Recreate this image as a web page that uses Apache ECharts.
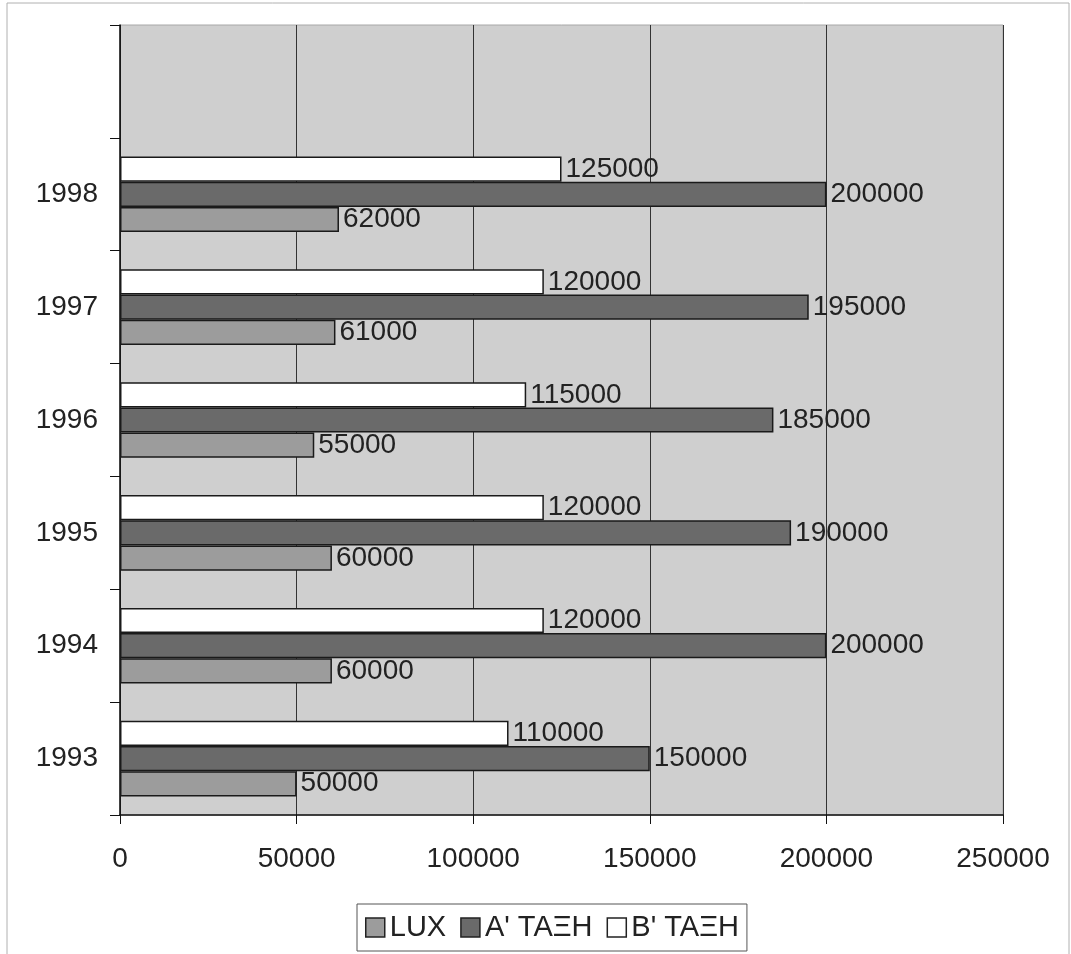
<!DOCTYPE html>
<html>
<head>
<meta charset="utf-8">
<script src="https://cdn.jsdelivr.net/npm/echarts@6/dist/echarts.min.js"></script>
<style>
html,body{margin:0;padding:0;background:#fff;}
#chart{width:1071px;height:954px;}
</style>
</head>
<body>
<div id="chart"></div>
<script>
const categories = ['1993', '1994', '1995', '1996', '1997', '1998', ''];
const seriesNames = ['LUX', 'Α\' ΤΑΞΗ', 'Β\' ΤΑΞΗ'];
const luxValues = [50000, 60000, 60000, 55000, 61000, 62000, null];
const aClassValues = [150000, 200000, 190000, 185000, 195000, 200000, null];
const bClassValues = [110000, 120000, 120000, 115000, 120000, 125000, null];
const xTicks = [0, 50000, 100000, 150000, 200000, 250000];

const fontFamily = 'Liberation Sans, Arial, sans-serif';
const colors = ['#9c9c9c', '#6a6a6a', '#ffffff'];
const valuesList = [luxValues, aClassValues, bClassValues];

// ECharts stacks horizontal bar series top-to-bottom in series order,
// so draw them in reverse to keep LUX at the bottom of each group.
const drawOrder = [2, 1, 0];

const chart = echarts.init(document.getElementById('chart'));
const option = {
  animation: false,
  backgroundColor: '#ffffff',
  textStyle: { fontFamily: fontFamily },
  graphic: [{
    type: 'rect',
    shape: { x: 7, y: 3, width: 1062, height: 960 },
    style: { fill: 'none', stroke: '#b0b0b0', lineWidth: 1 },
    silent: true
  }],
  legend: {
    bottom: 3,
    left: 357,
    itemWidth: 19,
    itemHeight: 19,
    itemGap: 14,
    padding: [9, 8, 9, 8],
    borderColor: '#555',
    borderWidth: 1,
    backgroundColor: '#ffffff',
    icon: 'rect',
    textStyle: { fontSize: 29, color: '#222', fontFamily: fontFamily },
    itemStyle: { borderColor: '#222', borderWidth: 1.5 },
    data: seriesNames
  },
  grid: {
    left: 120,
    right: 68,
    top: 25,
    bottom: 139,
    show: true,
    backgroundColor: '#cfcfcf',
    borderColor: '#a8a8a8',
    borderWidth: 1
  },
  xAxis: {
    type: 'value',
    min: 0,
    max: 250000,
    interval: 50000,
    axisLine: { show: true, lineStyle: { color: '#111', width: 1.5 } },
    axisTick: { show: true, length: 9, lineStyle: { color: '#111' } },
    axisLabel: {
      margin: 30,
      fontSize: 28,
      color: '#222',
      fontFamily: fontFamily,
      formatter: function (v) { return xTicks.indexOf(v) >= 0 ? String(v) : ''; }
    },
    splitLine: { show: true, lineStyle: { color: '#333', width: 1 } }
  },
  yAxis: {
    type: 'category',
    data: categories,
    axisLine: { show: true, lineStyle: { color: '#111', width: 1.5 } },
    axisTick: { show: true, length: 10, lineStyle: { color: '#111' } },
    axisLabel: { margin: 22, fontSize: 28, color: '#222', fontFamily: fontFamily },
    splitLine: { show: false }
  },
  series: drawOrder.map(function (i) {
    return {
      name: seriesNames[i],
      type: 'bar',
      data: valuesList[i],
      barGap: '0%',
      barCategoryGap: '33%',
      itemStyle: { color: colors[i], borderColor: '#1a1a1a', borderWidth: 1.5 },
      label: {
        show: true,
        position: 'right',
        distance: 4,
        fontSize: 28,
        color: '#222',
        fontFamily: fontFamily
      }
    };
  })
};
chart.setOption(option);
</script>
</body>
</html>
